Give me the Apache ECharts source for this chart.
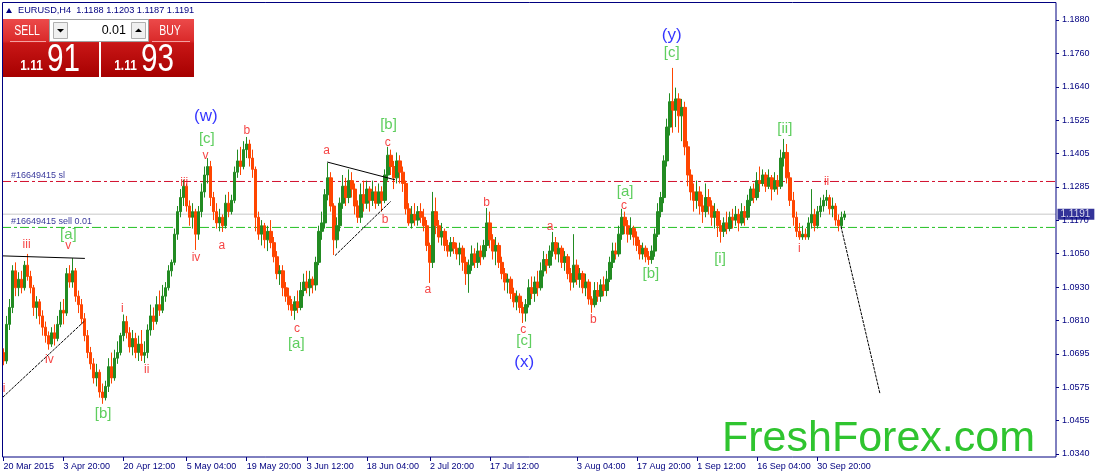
<!DOCTYPE html>
<html><head><meta charset="utf-8">
<script src="https://cdn.jsdelivr.net/npm/echarts@6/dist/echarts.min.js"></script>
<style>html,body{margin:0;padding:0;background:#fff}#c{width:1096px;height:476px}</style>
</head><body><div id="c"></div>
<script>
// ---- data (H4 bars aggregated, 1 bar = 3 px) ----
const opens = [
1.0700,1.0670,1.0800,1.0860,1.0990,1.0930,1.0960,1.0930,1.1010,1.0970,
1.0930,1.0860,1.0880,1.0830,1.0790,1.0760,1.0730,1.0770,1.0750,1.0800,
1.0850,1.0840,1.0980,1.0950,1.0990,1.0900,1.0870,1.0820,1.0760,1.0700,
1.0660,1.0610,1.0630,1.0560,1.0540,1.0580,1.0650,1.0610,1.0680,1.0700,
1.0760,1.0810,1.0770,1.0720,1.0750,1.0700,1.0730,1.0690,1.0700,1.0780,
1.0830,1.0810,1.0870,1.0850,1.0900,1.0930,1.0990,1.1020,1.1120,1.1200,
1.1250,1.1290,1.1220,1.1180,1.1200,1.1120,1.1200,1.1270,1.1330,1.1360,
1.1250,1.1200,1.1160,1.1180,1.1150,1.1230,1.1200,1.1240,1.1340,1.1380,
1.1360,1.1420,1.1440,1.1390,1.1350,1.1180,1.1120,1.1150,1.1100,1.1130,
1.1090,1.1040,1.0980,1.0990,1.0930,1.0900,1.0870,1.0850,1.0880,1.0860,
1.0920,1.0950,1.0930,1.0960,1.0940,1.1020,1.1130,1.1160,1.1260,1.1320,
1.1220,1.1100,1.1150,1.1230,1.1290,1.1250,1.1310,1.1280,1.1220,1.1180,
1.1260,1.1230,1.1280,1.1240,1.1270,1.1230,1.1270,1.1240,1.1330,1.1400,
1.1360,1.1320,1.1380,1.1340,1.1300,1.1210,1.1160,1.1190,1.1170,1.1200,
1.1180,1.1150,1.1080,1.1020,1.1200,1.1150,1.1110,1.1130,1.1080,1.1060,
1.1090,1.1070,1.1050,1.1070,1.1020,1.0980,1.1010,1.1050,1.1020,1.1060,
1.1040,1.1080,1.1160,1.1100,1.1060,1.1080,1.1020,1.0980,1.0950,1.0960,
1.0910,1.0880,1.0900,1.0860,1.0840,1.0870,1.0930,1.0910,1.0950,1.0930,
1.0990,1.1030,1.1010,1.1060,1.1090,1.1050,1.1070,1.1020,1.1040,1.0980,
1.0950,1.1010,1.0960,1.0980,1.0930,1.0950,1.0890,1.0870,1.0920,1.0900,
1.0940,1.0920,1.0960,1.1020,1.1060,1.1050,1.1120,1.1180,1.1150,1.1120,
1.1140,1.1110,1.1080,1.1050,1.1070,1.1040,1.1030,1.1060,1.1120,1.1200,
1.1250,1.1380,1.1500,1.1590,1.1560,1.1600,1.1540,1.1570,1.1430,1.1330,
1.1270,1.1240,1.1270,1.1220,1.1200,1.1250,1.1220,1.1180,1.1200,1.1150,
1.1130,1.1160,1.1140,1.1180,1.1170,1.1190,1.1160,1.1200,1.1180,1.1240,
1.1280,1.1250,1.1310,1.1300,1.1330,1.1290,1.1320,1.1280,1.1310,1.1290,
1.1390,1.1410,1.1320,1.1240,1.1180,1.1130,1.1110,1.1120,1.1110,1.1160,
1.1190,1.1150,1.1200,1.1220,1.1240,1.1250,1.1210,1.1220,1.1170,1.1150,
1.1180];
const closes = [
1.0670,1.0800,1.0860,1.0990,1.0930,1.0960,1.0930,1.1010,1.0970,1.0930,
1.0860,1.0880,1.0830,1.0790,1.0760,1.0730,1.0770,1.0750,1.0800,1.0850,
1.0840,1.0980,1.0950,1.0990,1.0900,1.0870,1.0820,1.0760,1.0700,1.0660,
1.0610,1.0630,1.0560,1.0540,1.0580,1.0650,1.0610,1.0680,1.0700,1.0760,
1.0810,1.0770,1.0720,1.0750,1.0700,1.0730,1.0690,1.0700,1.0780,1.0830,
1.0810,1.0870,1.0850,1.0900,1.0930,1.0990,1.1020,1.1120,1.1200,1.1250,
1.1290,1.1220,1.1180,1.1200,1.1120,1.1200,1.1270,1.1330,1.1360,1.1250,
1.1200,1.1160,1.1180,1.1150,1.1230,1.1200,1.1240,1.1340,1.1380,1.1360,
1.1420,1.1440,1.1390,1.1350,1.1180,1.1120,1.1150,1.1100,1.1130,1.1090,
1.1040,1.0980,1.0990,1.0930,1.0900,1.0870,1.0850,1.0880,1.0860,1.0920,
1.0950,1.0930,1.0960,1.0940,1.1020,1.1130,1.1160,1.1260,1.1320,1.1220,
1.1100,1.1150,1.1230,1.1290,1.1250,1.1310,1.1280,1.1220,1.1180,1.1260,
1.1230,1.1280,1.1240,1.1270,1.1230,1.1270,1.1240,1.1330,1.1400,1.1360,
1.1320,1.1380,1.1340,1.1300,1.1210,1.1160,1.1190,1.1170,1.1200,1.1180,
1.1150,1.1080,1.1020,1.1200,1.1150,1.1110,1.1130,1.1080,1.1060,1.1090,
1.1070,1.1050,1.1070,1.1020,1.0980,1.1010,1.1050,1.1020,1.1060,1.1040,
1.1080,1.1160,1.1100,1.1060,1.1080,1.1020,1.0980,1.0950,1.0960,1.0910,
1.0880,1.0900,1.0860,1.0840,1.0870,1.0930,1.0910,1.0950,1.0930,1.0990,
1.1030,1.1010,1.1060,1.1090,1.1050,1.1070,1.1020,1.1040,1.0980,1.0950,
1.1010,1.0960,1.0980,1.0930,1.0950,1.0890,1.0870,1.0920,1.0900,1.0940,
1.0920,1.0960,1.1020,1.1060,1.1050,1.1120,1.1180,1.1150,1.1120,1.1140,
1.1110,1.1080,1.1050,1.1070,1.1040,1.1030,1.1060,1.1120,1.1200,1.1250,
1.1380,1.1500,1.1590,1.1560,1.1600,1.1540,1.1570,1.1430,1.1330,1.1270,
1.1240,1.1270,1.1220,1.1200,1.1250,1.1220,1.1180,1.1200,1.1150,1.1130,
1.1160,1.1140,1.1180,1.1170,1.1190,1.1160,1.1200,1.1180,1.1240,1.1280,
1.1250,1.1310,1.1300,1.1330,1.1290,1.1320,1.1280,1.1310,1.1290,1.1390,
1.1410,1.1320,1.1240,1.1180,1.1130,1.1110,1.1120,1.1110,1.1160,1.1190,
1.1150,1.1200,1.1220,1.1240,1.1250,1.1210,1.1220,1.1170,1.1150,1.1180,
1.1191];
const lows = [
1.0655,1.0660,1.0780,1.0840,1.0900,1.0900,1.0910,1.0920,1.0955,1.0910,
1.0830,1.0820,1.0800,1.0760,1.0735,1.0710,1.0720,1.0725,1.0740,1.0790,
1.0800,1.0830,1.0930,1.0930,1.0880,1.0840,1.0800,1.0740,1.0680,1.0640,
1.0590,1.0580,1.0540,1.0518,1.0530,1.0560,1.0590,1.0600,1.0660,1.0690,
1.0740,1.0750,1.0700,1.0690,1.0680,1.0670,1.0670,1.0663,1.0680,1.0760,
1.0780,1.0800,1.0830,1.0840,1.0880,1.0920,1.0970,1.1010,1.1100,1.1180,
1.1220,1.1200,1.1150,1.1140,1.1064,1.1100,1.1180,1.1250,1.1300,1.1220,
1.1170,1.1140,1.1130,1.1128,1.1140,1.1180,1.1190,1.1230,1.1320,1.1330,
1.1350,1.1390,1.1360,1.1320,1.1130,1.1100,1.1080,1.1070,1.1060,1.1070,
1.1020,1.0960,1.0940,1.0900,1.0880,1.0850,1.0830,1.0816,1.0840,1.0850,
1.0900,1.0910,1.0900,1.0910,1.0920,1.1010,1.1100,1.1140,1.1240,1.1200,
1.1046,1.1070,1.1130,1.1210,1.1220,1.1230,1.1250,1.1190,1.1160,1.1160,
1.1200,1.1210,1.1200,1.1220,1.1210,1.1220,1.1200,1.1230,1.1310,1.1330,
1.1280,1.1300,1.1300,1.1270,1.1190,1.1150,1.1140,1.1150,1.1150,1.1160,
1.1130,1.1060,1.0947,1.1000,1.1120,1.1090,1.1080,1.1060,1.1040,1.1040,
1.1050,1.1030,1.1010,1.0990,1.0940,1.0912,1.0990,1.1000,1.1000,1.1010,
1.1030,1.1060,1.1070,1.1030,1.1010,1.1000,1.0960,1.0920,1.0910,1.0890,
1.0860,1.0850,1.0840,1.0805,1.0810,1.0860,1.0890,1.0880,1.0900,1.0920,
1.0970,1.0980,1.1000,1.1040,1.1030,1.1020,1.1000,1.0990,1.0960,1.0920,
1.0930,1.0940,1.0930,1.0910,1.0900,1.0870,1.0841,1.0860,1.0880,1.0880,
1.0900,1.0900,1.0950,1.1000,1.1030,1.1040,1.1100,1.1120,1.1090,1.1100,
1.1080,1.1060,1.1030,1.1030,1.1020,1.1011,1.1015,1.1040,1.1110,1.1180,
1.1230,1.1360,1.1470,1.1480,1.1500,1.1480,1.1450,1.1400,1.1290,1.1240,
1.1200,1.1210,1.1190,1.1160,1.1180,1.1190,1.1150,1.1140,1.1110,1.1090,
1.1110,1.1120,1.1130,1.1140,1.1150,1.1130,1.1150,1.1150,1.1170,1.1220,
1.1230,1.1240,1.1270,1.1290,1.1270,1.1280,1.1240,1.1270,1.1260,1.1280,
1.1360,1.1300,1.1220,1.1150,1.1110,1.1100,1.1100,1.1100,1.1100,1.1140,
1.1130,1.1140,1.1180,1.1200,1.1220,1.1190,1.1180,1.1150,1.1130,1.1140,
1.1170];
const highs = [
1.0715,1.0830,1.0890,1.1010,1.1020,1.0985,1.0990,1.1025,1.1050,1.0990,
1.0940,1.0900,1.0890,1.0850,1.0810,1.0775,1.0790,1.0800,1.0830,1.0880,
1.0890,1.1000,1.1010,1.1035,1.1000,1.0920,1.0890,1.0840,1.0780,1.0720,
1.0680,1.0660,1.0640,1.0590,1.0600,1.0680,1.0700,1.0710,1.0740,1.0770,
1.0835,1.0830,1.0790,1.0780,1.0770,1.0760,1.0780,1.0740,1.0800,1.0870,
1.0860,1.0900,1.0920,1.0940,1.0950,1.1010,1.1030,1.1140,1.1220,1.1280,
1.1313,1.1300,1.1240,1.1230,1.1210,1.1220,1.1300,1.1360,1.1390,1.1380,
1.1270,1.1230,1.1210,1.1190,1.1260,1.1270,1.1260,1.1360,1.1420,1.1430,
1.1450,1.1465,1.1455,1.1420,1.1360,1.1200,1.1170,1.1160,1.1150,1.1170,
1.1110,1.1060,1.1010,1.1010,1.0950,1.0930,1.0890,1.0900,1.0920,1.0950,
1.0980,1.0990,1.0990,1.0970,1.1040,1.1150,1.1200,1.1280,1.1373,1.1340,
1.1230,1.1180,1.1250,1.1330,1.1320,1.1350,1.1340,1.1300,1.1240,1.1300,
1.1310,1.1310,1.1290,1.1310,1.1290,1.1300,1.1290,1.1350,1.1430,1.1420,
1.1380,1.1410,1.1400,1.1360,1.1310,1.1230,1.1220,1.1230,1.1220,1.1230,
1.1210,1.1170,1.1090,1.1270,1.1250,1.1170,1.1160,1.1140,1.1100,1.1110,
1.1110,1.1090,1.1090,1.1080,1.1040,1.1030,1.1080,1.1070,1.1090,1.1080,
1.1100,1.1213,1.1200,1.1120,1.1110,1.1090,1.1040,1.1000,1.0980,1.0970,
1.0930,1.0920,1.0910,1.0880,1.0890,1.0960,1.0970,1.0970,1.0990,1.1020,
1.1060,1.1050,1.1080,1.1128,1.1110,1.1090,1.1080,1.1060,1.1050,1.1000,
1.1120,1.1030,1.1000,1.0990,1.0980,1.0960,1.0900,1.0950,1.0950,1.0960,
1.0970,1.0990,1.1040,1.1090,1.1090,1.1150,1.1210,1.1200,1.1170,1.1180,
1.1150,1.1130,1.1100,1.1090,1.1080,1.1060,1.1080,1.1140,1.1230,1.1270,
1.1400,1.1530,1.1620,1.1710,1.1640,1.1620,1.1600,1.1590,1.1450,1.1350,
1.1300,1.1310,1.1290,1.1260,1.1300,1.1280,1.1240,1.1230,1.1210,1.1170,
1.1180,1.1200,1.1200,1.1210,1.1220,1.1210,1.1230,1.1220,1.1260,1.1290,
1.1300,1.1340,1.1360,1.1350,1.1340,1.1350,1.1330,1.1340,1.1330,1.1420,
1.1458,1.1440,1.1340,1.1270,1.1200,1.1160,1.1150,1.1140,1.1180,1.1280,
1.1210,1.1220,1.1250,1.1260,1.1277,1.1260,1.1250,1.1230,1.1190,1.1200,
1.1203];

const slotCount = 351; // bar slots across the chart width, incl. the empty right shift
const tickIndex = [0,20,40,61,81,101,121,142,162,191,211,231,251,271];
const tickText = ['20 Mar 2015','3 Apr 20:00','20 Apr 12:00','5 May 04:00','19 May 20:00','3 Jun 12:00','18 Jun 04:00','2 Jul 20:00','17 Jul 12:00','3 Aug 04:00','17 Aug 20:00','1 Sep 12:00','16 Sep 04:00','30 Sep 20:00'];
const priceTicks = ['1.0340','1.0455','1.0575','1.0695','1.0810','1.0930','1.1050','1.1170','1.1285','1.1405','1.1525','1.1640','1.1760','1.1880'];
const lastPrice = 1.1191;
const slPrice = 1.1307;
const sellPrice = 1.1144;
const slText = '#16649415 sl';
const sellText = '#16649415 sell 0.01';

// trend lines: [slot1, price1, slot2, price2, dotted]
const trendLines = [
  [-0.27,1.1043,27.1,1.1034,false],
  [-0.27,1.0541,27.1,1.0813,true],
  [107.8,1.1376,130.4,1.1313,false],
  [110.4,1.1044,128.9,1.1236,true],
  [278.9,1.1147,291.9,1.0553,true]
];
// wave labels: [text, slot, price]
const minorLabels = [
  ['i',0.2,1.0571],['iii',7.7,1.1084],['v',21.6,1.1078],['iv',15.3,1.0674],
  ['i',39.6,1.0857],['ii',47.7,1.0638],['iii',60.2,1.1301],['iv',64.1,1.1035],
  ['v',67.3,1.1398],['a',72.7,1.1078],['b',81.0,1.1488],['c',97.7,1.0784],
  ['a',107.6,1.1416],['c',128.0,1.1443],['b',127.1,1.1173],['a',141.3,1.0922],
  ['b',160.9,1.1232],['c',173.1,1.0780],['a',182.0,1.1145],['b',196.4,1.0816],
  ['c',206.6,1.1220],['i',265.0,1.1070],['ii',274.1,1.1307]
];
const mainLabels = [
  ['[a]',21.6,1.1117],['[b]',33.2,1.0484],['[c]',67.7,1.1457],['[a]',97.5,1.0731],
  ['[b]',128.2,1.1508],['[c]',173.4,1.0741],['[a]',207.0,1.1271],['[b]',215.6,1.0979],
  ['[c]',222.5,1.1762],['[i]',238.6,1.1032],['[ii]',260.2,1.1493]
];
const degreeLabels = [['(w)',67.4,1.1540],['(x)',173.4,1.0667],['(y)',222.5,1.1827]];

// ---- chart ----
const FONT = "'Liberation Sans', Arial, sans-serif";
const NAVY = '#000080';
const firstSlot = -0.5, lastSlot = slotCount - 0.5;
const categories = Array.from({length: slotCount}, (_, i) => {
  const k = tickIndex.indexOf(i); return k >= 0 ? tickText[k] : '';
});
const candles = opens.map((o, i) => [o, closes[i], lows[i], highs[i]]);
const yMin = Number(priceTicks[0]), yMax = Number(priceTicks[priceTicks.length - 1]);
const yStep = (yMax - yMin) / (priceTicks.length - 1);
const showTick = (i, v) => v !== '';

function labelSeries(list, color, size) {
  return {
    type: 'scatter', xAxisIndex: 1, symbol: 'circle', symbolSize: 1, silent: true, z: 5,
    itemStyle: {color: 'rgba(0,0,0,0)'},
    label: {show: true, position: 'inside', formatter: '{b}', color: color, fontSize: size, fontFamily: FONT},
    data: list.map(d => ({name: d[0], value: [d[1], d[2]]}))
  };
}
const trendSeries = trendLines.map(t => ({
  type: 'line', xAxisIndex: 1, symbol: 'none', silent: true, z: 4,
  lineStyle: {color: '#000', width: 1, type: t[4] ? [3, 1] : 'solid'},
  data: [[t[0], t[1]], [t[2], t[3]]]
}));
function hLine(price, color, type) {
  return {type: 'line', xAxisIndex: 1, symbol: 'none', silent: true, z: 2,
    lineStyle: {color: color, width: 1, type: type}, data: [[firstSlot, price], [lastSlot, price]]};
}
function tagSeries(slot, price, text, labelOpt) {
  return {type: 'scatter', xAxisIndex: 1, symbolSize: 1, silent: true, z: 6,
    itemStyle: {color: 'rgba(0,0,0,0)'},
    label: Object.assign({show: true, formatter: text, fontFamily: FONT}, labelOpt),
    data: [[slot, price]]};
}

const grad = () => new echarts.graphic.LinearGradient(0, 0, 0, 1, [
  {offset: 0, color: '#ec4a4a'}, {offset: 0.38, color: '#da2a2a'},
  {offset: 0.42, color: '#c81616'}, {offset: 1, color: '#a60000'}]);
const wText = (x, y, text, size, sx, bold) => ({
  type: 'text', x: x, y: y, scaleX: sx, z: 20,
  style: {text: text, fill: '#fff', fontSize: size, fontFamily: FONT, fontWeight: bold ? 'bold' : 'normal', align: 'center', verticalAlign: 'middle'}
});

const chart = echarts.init(document.getElementById('c'));
chart.setOption({
  animation: false,
  backgroundColor: '#fff',
  grid: {left: 2, right: 40, top: 20, bottom: 22},
  xAxis: [{
    type: 'category', data: categories, boundaryGap: true, offset: 3,
    axisLine: {show: false, onZero: false},
    axisTick: {show: true, alignWithLabel: true, interval: showTick, length: 4, lineStyle: {color: NAVY}},
    axisLabel: {show: true, interval: showTick, align: 'left', margin: 5, color: NAVY, fontSize: 9, fontFamily: FONT},
    splitLine: {show: false}
  }, {
    type: 'value', min: firstSlot, max: lastSlot, show: false,
    axisLine: {onZero: false}
  }],
  yAxis: {
    type: 'value', position: 'right', min: yMin, max: yMax, interval: yStep,
    axisLine: {show: false, onZero: false},
    axisTick: {show: true, length: 3, lineStyle: {color: NAVY}},
    axisLabel: {margin: 6, color: NAVY, fontSize: 9, fontFamily: FONT,
      formatter: v => priceTicks[Math.round((v - yMin) / yStep)] || ''},
    splitLine: {show: false}
  },
  series: [
    hLine(lastPrice, '#c8c8c8', 'solid'),
    hLine(slPrice, '#d2102e', [9, 3, 3, 3]),
    hLine(sellPrice, '#22c022', [9, 3, 3, 3]),
    {
      type: 'candlestick', data: candles, barWidth: 3, z: 3,
      itemStyle: {color: '#228b22', color0: '#ff4500', borderColor: '#228b22', borderColor0: '#ff4500', borderWidth: 1}
    },
    tagSeries(2.3, slPrice, slText, {position: 'right', distance: 0, offset: [0, -6], color: NAVY, fontSize: 9}),
    tagSeries(2.3, sellPrice, sellText, {position: 'right', distance: 0, offset: [0, -6], color: NAVY, fontSize: 9}),
    tagSeries(lastSlot, lastPrice, lastPrice.toFixed(4), {position: 'right', distance: 1, color: '#fff', backgroundColor: NAVY, padding: [1, 4, 0, 3], fontSize: 10})
  ].concat(trendSeries, [
    labelSeries(minorLabels, '#f41414', 12),
    labelSeries(mainLabels, '#36c236', 15),
    labelSeries(degreeLabels, '#0000ff', 17)
  ]),
  graphic: [
    {type: 'rect', z: 50, silent: true, shape: {x: 2.5, y: 2.5, width: 1053.5, height: 454.5}, style: {fill: 'none', stroke: NAVY, lineWidth: 1}},
    {type: 'text', x: 722, y: 439, z: 1, style: {text: 'FreshForex.com', fill: '#2fc42f', fontSize: 43, fontFamily: FONT, verticalAlign: 'middle'}},
    {type: 'polygon', z: 20, shape: {points: [[6, 13], [12, 13], [9, 8]]}, style: {fill: NAVY}},
    {type: 'text', x: 18, y: 10.5, z: 20, style: {text: 'EURUSD,H4  1.1188 1.1203 1.1187 1.1191', fill: NAVY, fontSize: 9.2, fontFamily: FONT, verticalAlign: 'middle'}},
    {type: 'rect', z: 18, shape: {x: 2, y: 19, width: 97, height: 58}, style: {fill: grad()}},
    {type: 'rect', z: 18, shape: {x: 101, y: 19, width: 93, height: 58}, style: {fill: grad()}},
    {type: 'rect', z: 19, shape: {x: 49.5, y: 19.5, width: 99, height: 22}, style: {fill: '#fff', stroke: '#a0a0a0'}},
    {type: 'rect', z: 20, shape: {x: 53.5, y: 22.5, width: 14, height: 16}, style: {fill: '#f0f0f0', stroke: '#b0b0b0'}},
    {type: 'polygon', z: 21, shape: {points: [[57, 29], [64, 29], [60.5, 32.5]]}, style: {fill: '#000'}},
    {type: 'rect', z: 20, shape: {x: 131.5, y: 22.5, width: 14, height: 16}, style: {fill: '#f0f0f0', stroke: '#b0b0b0'}},
    {type: 'polygon', z: 21, shape: {points: [[135, 32], [142, 32], [138.5, 28.5]]}, style: {fill: '#000'}},
    {type: 'text', x: 126, y: 31, z: 21, style: {text: '0.01', fill: '#000', fontSize: 12.5, fontFamily: FONT, align: 'right', verticalAlign: 'middle'}},
    {type: 'line', z: 20, shape: {x1: 10, y1: 41.5, x2: 46, y2: 41.5}, style: {stroke: '#f4a0a0', lineWidth: 1}},
    {type: 'line', z: 20, shape: {x1: 152, y1: 41.5, x2: 190, y2: 41.5}, style: {stroke: '#f4a0a0', lineWidth: 1}},
    wText(27, 31, 'SELL', 14, 0.75, false),
    wText(170, 31, 'BUY', 14, 0.75, false),
    wText(31.5, 66, '1.11', 14, 0.85, true),
    wText(63.5, 61, '91', 38, 0.78, false),
    wText(125.5, 66, '1.11', 14, 0.85, true),
    wText(157.5, 61, '93', 38, 0.78, false)
  ]
});
</script>
</body></html>
